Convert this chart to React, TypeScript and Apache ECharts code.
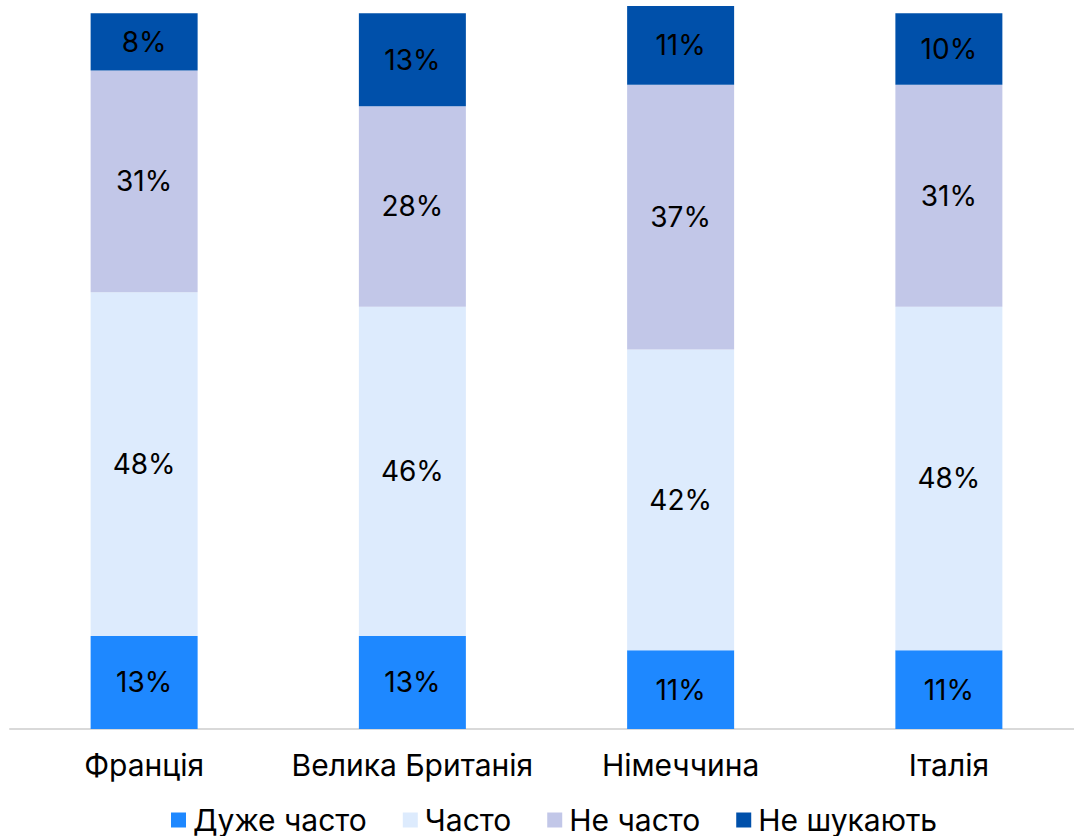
import React, { useEffect, useRef } from "react";
import * as echarts from "echarts";

const categories = ["Франція", "Велика Британія", "Німеччина", "Італія"];
const seriesNames = ["Дуже часто", "Часто", "Не часто", "Не шукають"];
const veryOften = [13, 13, 11, 11];
const often = [48, 46, 42, 48];
const notOften = [31, 28, 37, 31];
const notSearching = [8, 13, 11, 10];
const colors = ["#1E88FF", "#DDEBFD", "#C2C7E8", "#0050AA"];

export default function App() {
  const ref = useRef<HTMLDivElement>(null);
  useEffect(() => {
    if (!ref.current) return;
    const chart = echarts.init(ref.current, null, { renderer: "svg" });
    const data = [veryOften, often, notOften, notSearching];
    chart.setOption({
      animation: false,
      textStyle: { fontFamily: "Inter" },
      grid: { left: 10, width: 1073, top: 6, height: 723, containLabel: false },
      legend: {
        top: 800,
        left: 166,
        itemWidth: 15,
        itemHeight: 15,
        itemGap: 36,
        icon: "rect",
        textStyle: { fontSize: 30, lineHeight: 30, color: "#000", fontFamily: "Inter", padding: [0, 0, 0, 2] },
        data: seriesNames,
      },
      xAxis: {
        type: "category",
        data: categories,
        axisLine: { lineStyle: { color: "#D9D9D9", width: 2 } },
        axisTick: { show: false },
        axisLabel: { fontSize: 30, color: "#000", margin: 21, fontFamily: "Inter", interval: 0 },
      },
      yAxis: {
        type: "value",
        min: 0,
        max: 101,
        show: false,
        splitLine: { show: false },
      },
      series: data.map((d, i) => ({
        name: seriesNames[i],
        type: "bar",
        stack: "total",
        barWidth: 107,
        data: d,
        itemStyle: { color: colors[i] },
        label: {
          show: true,
          position: "inside",
          formatter: "{c}%",
          fontSize: 28,
          color: "#000",
          fontFamily: "Inter",
        },
      })),
    });
    return () => chart.dispose();
  }, []);
  return (
    <div style={{ position: "fixed", left: 0, top: 0, width: 1074, height: 836, overflow: "hidden", background: "#fff" }}>
      <div ref={ref} style={{ width: 1090, height: 836 }} />
    </div>
  );
}
